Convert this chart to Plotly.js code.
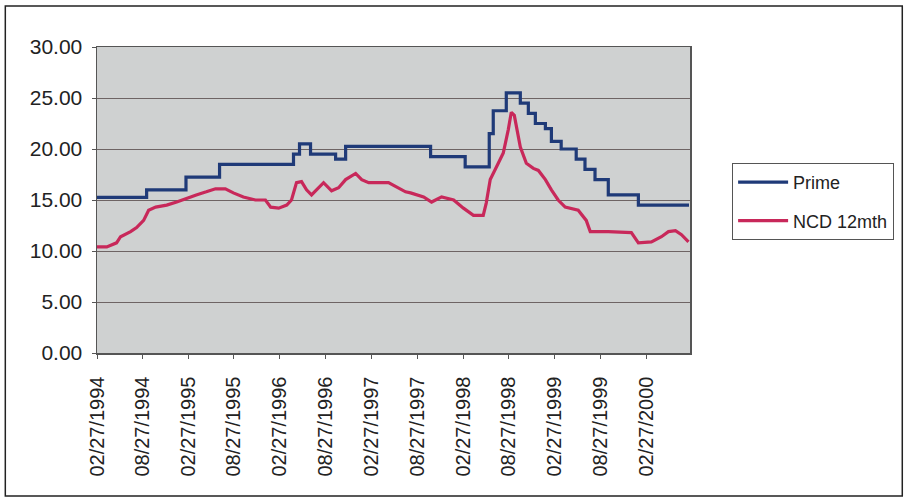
<!DOCTYPE html>
<html>
<head>
<meta charset="utf-8">
<script src="https://cdn.plot.ly/plotly-3.0.1.min.js"></script>
<style>
html,body{margin:0;padding:0;background:#fff;}
#chart{width:906px;height:501px;}
</style>
</head>
<body>
<div id="chart"></div>
<script>
// Prime rate: step changes (date, rate)
const primeDates = ['1994-02-27','1994-09-13','1995-02-17','1995-07-01','1996-04-21','1996-05-15','1996-06-28','1996-10-06','1996-11-15','1997-10-20','1998-03-07','1998-06-11','1998-06-27','1998-08-18','1998-10-13','1998-11-14','1998-12-12','1999-01-21','1999-02-14','1999-03-25','1999-05-24','1999-06-28','1999-08-07','1999-09-29','2000-01-27','2000-08-16'];
const primeValues = [15.25,16.0,17.25,18.5,19.5,20.5,19.5,19.0,20.25,19.25,18.25,21.5,23.75,25.5,24.5,23.5,22.5,22.0,20.75,20.0,19.0,18.0,17.0,15.5,14.5,14.5];

// NCD 12 month rate
const ncdDates = ['1994-02-27','1994-04-07','1994-05-16','1994-06-01','1994-07-11','1994-08-04','1994-09-01','1994-09-21','1994-10-19','1994-12-02','1995-01-11','1995-02-21','1995-03-30','1995-05-09','1995-06-15','1995-07-24','1995-08-25','1995-10-04','1995-11-21','1995-12-31','1996-01-21','1996-02-22','1996-03-25','1996-04-13','1996-05-03','1996-05-23','1996-06-12','1996-07-02','1996-07-30','1996-08-19','1996-09-20','1996-10-18','1996-11-15','1996-12-25','1997-01-18','1997-02-15','1997-05-05','1997-06-06','1997-07-12','1997-08-01','1997-09-22','1997-10-24','1997-12-03','1998-01-20','1998-02-28','1998-04-09','1998-05-18','1998-05-30','1998-06-15','1998-07-17','1998-08-06','1998-08-26','1998-09-07','1998-09-19','1998-10-01','1998-10-13','1998-11-06','1998-12-04','1998-12-24','1999-01-21','1999-02-14','1999-03-13','1999-04-10','1999-06-01','1999-07-03','1999-07-19','1999-09-29','1999-12-30','2000-01-27','2000-03-19','2000-04-28','2000-05-26','2000-06-23','2000-07-17','2000-08-14'];
const ncdValues = [10.4,10.4,10.8,11.4,11.9,12.3,13.0,14.0,14.3,14.5,14.8,15.2,15.5,15.8,16.1,16.1,15.7,15.3,15.0,15.0,14.3,14.2,14.5,15.0,16.7,16.8,16.0,15.5,16.2,16.7,15.9,16.2,17.0,17.6,17.0,16.7,16.7,16.3,15.8,15.7,15.3,14.8,15.3,15.0,14.2,13.5,13.5,14.7,17.0,18.6,19.6,21.9,23.6,23.3,21.9,20.2,18.6,18.1,17.9,17.0,16.0,15.0,14.3,14.0,13.0,11.9,11.9,11.8,10.8,10.9,11.4,11.9,12.0,11.6,10.9];

const tickDates = ['1994-02-27','1994-08-27','1995-02-27','1995-08-27','1996-02-27','1996-08-27','1997-02-27','1997-08-27','1998-02-27','1998-08-27','1999-02-27','1999-08-27','2000-02-27'];
const tickLabels = ['02/27/1994','08/27/1994','02/27/1995','08/27/1995','02/27/1996','08/27/1996','02/27/1997','08/27/1997','02/27/1998','08/27/1998','02/27/1999','08/27/1999','02/27/2000'];
const yTicks = [0,5,10,15,20,25,30];
const yTickLabels = ['0.00','5.00','10.00','15.00','20.00','25.00','30.00'];

const traces = [
  {x: primeDates, y: primeValues, name: 'Prime', type: 'scatter', mode: 'lines',
   line: {color: '#1f3a78', width: 3.2, shape: 'hv'}, legendgroup: 'a'},
  {x: ncdDates, y: ncdValues, name: 'NCD 12mth', type: 'scatter', mode: 'lines',
   line: {color: '#c8285a', width: 3.2}, legendgroup: 'b'}
];

const font = {family: 'Liberation Sans, Arial, sans-serif', color: '#222'};

const layout = {
  width: 906, height: 501,
  margin: {l: 97, r: 214, t: 47, b: 148},
  paper_bgcolor: '#ffffff',
  plot_bgcolor: '#cfd1d1',
  font: font,
  showlegend: true,
  legend: {
    x: 1.071, y: 0.621, xanchor: 'left', yanchor: 'top',
    bgcolor: '#ffffff', bordercolor: '#555', borderwidth: 1,
    font: {family: font.family, size: 18, color: '#222'},
    traceorder: 'grouped', tracegroupgap: 12, itemwidth: 50
  },
  xaxis: {
    type: 'date',
    range: ['1994-02-27', '2000-08-20'],
    tickmode: 'array', tickvals: tickDates, ticktext: tickLabels,
    tickangle: -90,
    tickfont: {family: font.family, size: 20, color: '#222'},
    ticks: 'outside', ticklen: 4, tickcolor: '#555',
    showgrid: false, zeroline: false,
    showline: true, linecolor: '#555', linewidth: 1.5, mirror: true,
    ticklabelstandoff: 10
  },
  yaxis: {
    range: [0, 30],
    tickmode: 'array', tickvals: yTicks, ticktext: yTickLabels,
    tickfont: {family: font.family, size: 21, color: '#222'},
    ticks: 'outside', ticklen: 4, tickcolor: '#555',
    showgrid: true, gridcolor: '#6e6464', gridwidth: 1,
    zeroline: false,
    showline: true, linecolor: '#555', linewidth: 1.5, mirror: true,
    ticklabelstandoff: 5
  },
  shapes: [
    {type: 'rect', xref: 'paper', yref: 'paper',
     x0: (5-97)/595, x1: (905-97)/595, y0: (353-496)/306, y1: (353-6)/306,
     line: {color: '#222', width: 1.5}, fillcolor: 'rgba(0,0,0,0)', layer: 'below'}
  ]
};

Plotly.newPlot('chart', traces, layout, {displayModeBar: false, staticPlot: true});
</script>
</body>
</html>
